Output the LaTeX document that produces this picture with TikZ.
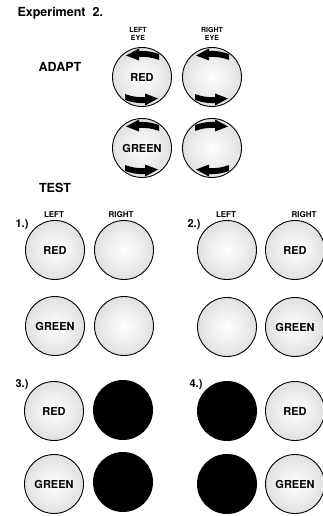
\documentclass[tikz,border=0pt]{standalone}
\usepackage{fontspec}
\setmainfont{TeX Gyre Heros}
\usetikzlibrary{arrows.meta}
\begin{document}
\begin{tikzpicture}[x=1pt,y=-1pt,
  eye/.style={circle,draw=black,line width=0.9pt,minimum size=59pt,inner sep=0pt,
    inner color=white,outer color=black!12,font=\bfseries\fontsize{11}{12}\selectfont},
  dark/.style={circle,fill=black,minimum size=60pt,inner sep=0pt},
  collab/.style={font=\bfseries\fontsize{8}{9}\selectfont},
  eyelab/.style={font=\bfseries\fontsize{7}{7.5}\selectfont,align=center},
  headline/.style={font=\bfseries\fontsize{12.5}{14}\selectfont},
  numlab/.style={font=\bfseries\fontsize{11}{12}\selectfont},
  arr/.pic={\fill[black] (17,-17) .. controls (9,-20) and (2,-20.5) .. (-3,-20)
      -- (-3,-16.5) -- (-16,-21.5) -- (-3,-28.5) -- (-3,-26)
      .. controls (3,-26.5) and (10,-25.5) .. (17,-23) -- cycle;}
]
\useasboundingbox[fill=white] (0,0) rectangle (322,516);

% titles
\node[headline,anchor=west] (title) at (14,13) {Experiment\ \ 2.};
\node[headline] (adapt) at (60,67) {ADAPT};
\node[headline] (test) at (55,188) {TEST};

% adapt labels
\node[eyelab] (le) at (138,34) {LEFT\\EYE};
\node[eyelab] (re) at (212,34) {RIGHT\\EYE};

% adapt circles
\node[eye] (a1) at (142,77) {RED};
\node[eye] (a2) at (212,77) {};
\node[eye] (a3) at (142,148) {GREEN};
\node[eye] (a4) at (212,148) {};

\path (a1.center) pic {arr} (a1.center) pic[rotate=180] {arr};
\path (a2.center) pic {arr} (a2.center) pic[rotate=180] {arr};
\path (a3.center) pic {arr} (a3.center) pic[rotate=180] {arr};
\path (a4.center) pic[xscale=-1] {arr} (a4.center) pic[yscale=-1] {arr};

% test 1
\node[numlab] (n1) at (22,225) {1.)};
\node[collab] (l1) at (54,215) {LEFT};
\node[collab] (r1) at (121,215) {RIGHT};
\node[eye] (t1a) at (55,250) {RED};
\node[eye] (t1b) at (124,250) {};
\node[eye] (t1c) at (55,326) {GREEN};
\node[eye] (t1d) at (124,326) {};

% test 2
\node[numlab] (n2) at (194,225) {2.)};
\node[collab] (l2) at (226,215) {LEFT};
\node[collab] (r2) at (304,215) {RIGHT};
\node[eye] (t2a) at (227,250) {};
\node[eye] (t2b) at (295,250) {RED};
\node[eye] (t2c) at (227,327) {};
\node[eye] (t2d) at (295,327) {GREEN};

% test 3
\node[numlab] (n3) at (22,385) {3.)};
\node[eye] (t3a) at (54,411) {RED};
\node[dark] (t3b) at (123,410) {};
\node[eye] (t3c) at (54,484) {GREEN};
\node[dark] (t3d) at (123,482) {};

% test 4
\node[numlab] (n4) at (196,385) {4.)};
\node[dark] (t4a) at (227,411) {};
\node[eye] (t4b) at (295,411) {RED};
\node[dark] (t4c) at (227,484) {};
\node[eye] (t4d) at (295,484) {GREEN};
\end{tikzpicture}
\end{document}
